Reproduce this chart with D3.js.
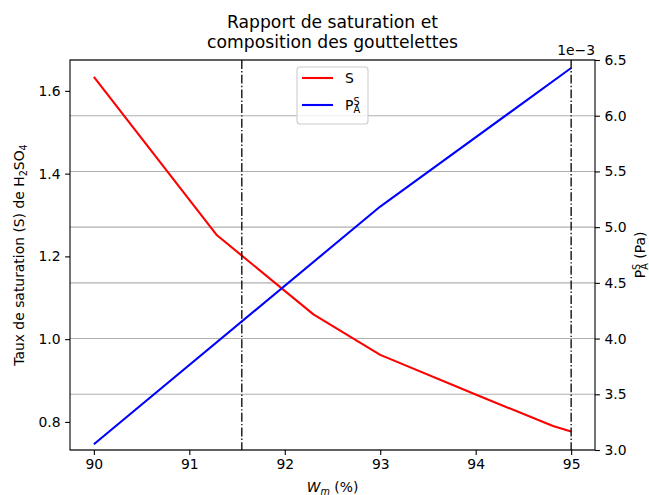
<!DOCTYPE html>
<html><head><meta charset="utf-8">
<script src="https://cdn.jsdelivr.net/npm/d3@7"></script>
<style>
body{margin:0;background:#fff;}
svg{display:block;font-family:"DejaVu Sans",sans-serif;}
</style></head>
<body>
<script>
// Data
const wm = [90, 91.29, 92.3, 93, 94, 94.81, 95];
const sValues = [1.634, 1.251, 1.060, 0.962, 0.866, 0.790, 0.777];
const wmP = [90, 93, 95];
const pValues = [3.052, 5.185, 6.428]; // ×1e-3 Pa
const vlines = [91.55, 95];
const xTicks = [90, 91, 92, 93, 94, 95];
const yLeftTicks = [0.8, 1.0, 1.2, 1.4, 1.6];
const yRightTicks = [3.0, 3.5, 4.0, 4.5, 5.0, 5.5, 6.0, 6.5];

const W = 649, H = 495;
const L = 70, R = 595, T = 60, B = 450;
const svg = d3.select("body").append("svg").attr("width", W).attr("height", H);

const x = d3.scaleLinear().domain([89.75, 95.25]).range([L, R]);
const yL = d3.scaleLinear().domain([0.7321, 1.6746]).range([B, T]);
const yR = d3.scaleLinear().domain([3.0, 6.5]).range([B, T]);

const fs = 13.9;
// grid (from right axis)
svg.append("g").selectAll("line").data(yRightTicks).join("line")
  .attr("x1", L).attr("x2", R).attr("y1", d => yR(d)).attr("y2", d => yR(d))
  .attr("stroke", "#b0b0b0").attr("stroke-width", 1.1);

// lines
const lineS = d3.line().x((d, i) => x(wm[i])).y(d => yL(d));
svg.append("path").attr("d", lineS(sValues)).attr("fill", "none")
  .attr("stroke", "#ff0000").attr("stroke-width", 2.1).attr("stroke-linejoin", "round");
const lineP = d3.line().x((d, i) => x(wmP[i])).y(d => yR(d));
svg.append("path").attr("d", lineP(pValues)).attr("fill", "none")
  .attr("stroke", "#0000ff").attr("stroke-width", 2.1).attr("stroke-linejoin", "round");

// vertical dash-dot lines
svg.append("g").selectAll("line").data(vlines).join("line")
  .attr("x1", d => x(d)).attr("x2", d => x(d)).attr("y1", T).attr("y2", B)
  .attr("stroke", "#000").attr("stroke-width", 1.3)
  .attr("stroke-dasharray", "8.9,2.2,1.4,2.2");

// axes
const gx = svg.append("g").attr("transform", `translate(0,${B})`)
  .call(d3.axisBottom(x).tickValues(xTicks).tickFormat(d3.format("d")).tickSize(4.9).tickPadding(4.5));
const gyl = svg.append("g").attr("transform", `translate(${L},0)`)
  .call(d3.axisLeft(yL).tickValues(yLeftTicks).tickFormat(d3.format(".1f")).tickSize(4.9).tickPadding(4.5));
const gyr = svg.append("g").attr("transform", `translate(${R},0)`)
  .call(d3.axisRight(yR).tickValues(yRightTicks).tickFormat(d3.format(".1f")).tickSize(4.9).tickPadding(4.5));
[gx, gyl, gyr].forEach(g => {
  g.select(".domain").remove();
  g.selectAll("line").attr("stroke", "#000").attr("stroke-width", 1.1);
  g.selectAll("text").attr("font-family", "DejaVu Sans").attr("font-size", fs).attr("fill", "#000");
});
// spines
svg.append("rect").attr("x", L).attr("y", T).attr("width", R - L).attr("height", B - T)
  .attr("fill", "none").attr("stroke", "#000").attr("stroke-width", 1.1);

// offset text
svg.append("text").attr("x", R).attr("y", 55).attr("text-anchor", "end")
  .attr("font-size", fs).text("1e\u22123");

// title
const title = svg.append("text").attr("text-anchor", "middle").attr("font-size", 17.2);
title.append("tspan").attr("x", (L + R) / 2).attr("y", 28).text("Rapport de saturation et");
title.append("tspan").attr("x", (L + R) / 2).attr("y", 48).text("composition des gouttelettes");

// x label
const xl = svg.append("text").attr("x", (L + R) / 2).attr("y", 492).attr("text-anchor", "middle").attr("font-size", fs);
xl.append("tspan").attr("font-style", "italic").text("W");
xl.append("tspan").attr("font-style", "italic").attr("font-size", 9.7).attr("dy", 2.5).text("m");
xl.append("tspan").attr("dy", -2.5).text(" (%)");

// left y label
const yl = svg.append("text").attr("transform", `translate(24,${(T + B) / 2}) rotate(-90)`)
  .attr("text-anchor", "middle").attr("font-size", fs);
yl.append("tspan").text("Taux de saturation (S) de H");
yl.append("tspan").attr("font-size", 9.7).attr("dy", 2.5).text("2");
yl.append("tspan").attr("dy", -2.5).text("SO");
yl.append("tspan").attr("font-size", 9.7).attr("dy", 2.5).text("4");

// right y label
const yr = svg.append("text").attr("transform", `translate(645,${(T + B) / 2}) rotate(-90)`)
  .attr("text-anchor", "middle").attr("font-size", fs);
yr.append("tspan").text("P");
yr.append("tspan").attr("font-size", 9.7).attr("dy", -5).text("S");
yr.append("tspan").attr("font-size", 9.7).attr("dx", -6.2).attr("dy", 8).text("A");
yr.append("tspan").attr("dy", -3).text(" (Pa)");

// legend
const lg = svg.append("g");
lg.append("rect").attr("x", 297).attr("y", 67).attr("width", 71).attr("height", 57)
  .attr("rx", 3).attr("fill", "#fff").attr("fill-opacity", 0.8)
  .attr("stroke", "#cccccc").attr("stroke-width", 1.1);
const legItems = [{c: "#ff0000", y: 78}, {c: "#0000ff", y: 105}];
lg.selectAll("line").data(legItems).join("line")
  .attr("x1", 302).attr("x2", 333).attr("y1", d => d.y).attr("y2", d => d.y)
  .attr("stroke", d => d.c).attr("stroke-width", 2.1);
lg.append("text").attr("x", 345).attr("y", 83).attr("font-size", fs).text("S");
const lp = lg.append("text").attr("x", 345).attr("y", 110).attr("font-size", fs);
lp.append("tspan").text("P");
lp.append("tspan").attr("font-size", 9.7).attr("dy", -5).text("S");
lp.append("tspan").attr("font-size", 9.7).attr("dx", -6.2).attr("dy", 8).text("A");
</script>
</body></html>
